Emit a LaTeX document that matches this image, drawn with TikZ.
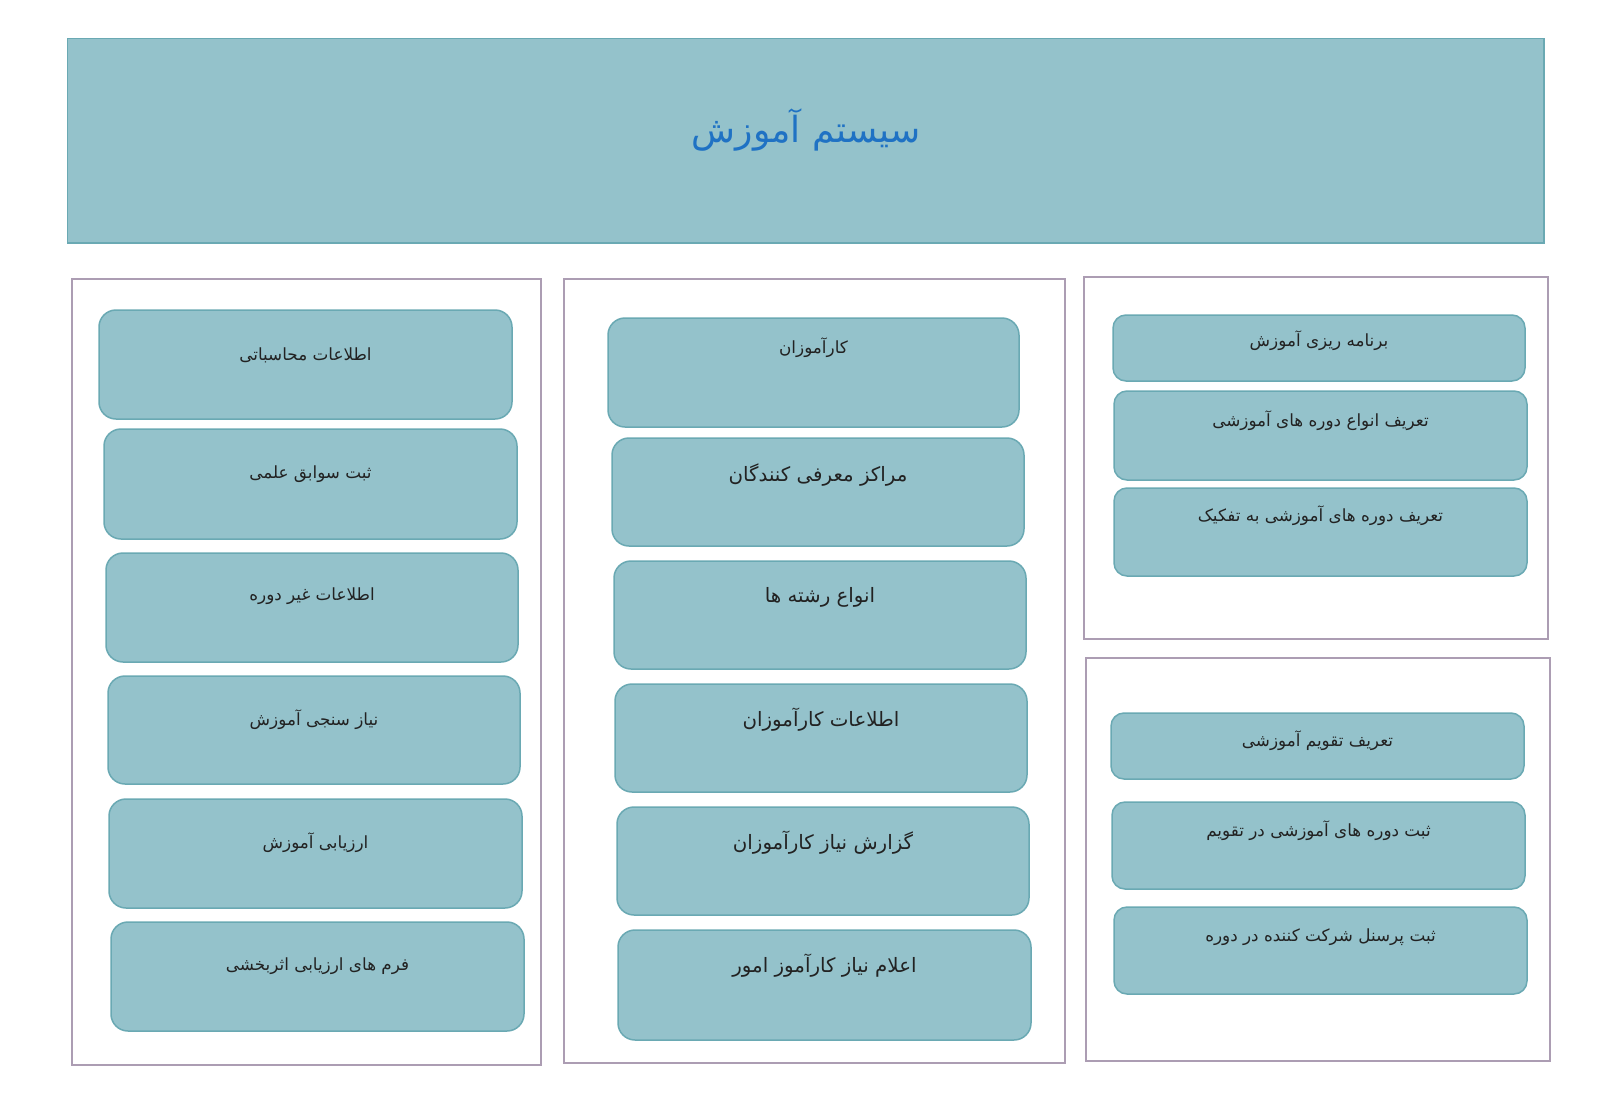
\documentclass[tikz,border=0pt]{standalone}
\usepackage{fontspec}
\usetikzlibrary{fit}
\TeXXeTstate=1
\newfontfamily\arabicfont[Script=Arabic]{DejaVu Sans}
\definecolor{boxfill}{HTML}{94C2CB}
\definecolor{boxedge}{HTML}{6AA9B3}
\definecolor{paneledge}{HTML}{AC9DB3}
\definecolor{titleblue}{HTML}{1F72C4}
\definecolor{txt}{HTML}{222222}
\tikzset{
  panel/.style={draw=paneledge, line width=1.3pt, fill=white, inner sep=0pt},
  box/.style={draw=boxedge, line width=1.5pt, fill=boxfill, rounded corners=17pt, inner sep=0pt},
  sbox/.style={draw=boxedge, line width=1.5pt, fill=boxfill, rounded corners=13pt, inner sep=0pt},
  lbl/.style={text=txt, inner sep=0pt, font=\arabicfont\fontsize{16.8}{19}\selectfont},
  mlbl/.style={text=txt, inner sep=0pt, font=\arabicfont\fontsize{19.8}{22}\selectfont},
  titlebox/.style={draw=boxedge, line width=1.3pt, fill=boxfill, inner sep=0pt},
  titlelbl/.style={text=titleblue, inner sep=0pt, font=\arabicfont\fontsize{36}{40}\selectfont}
}
% name, x1, y1, x2, y2, text-y, box style, label style, text
\newcommand\bx[9]{%
  \node[#7, fit={(#2,#3)(#4,#5)}] (#1) {};
  \node[#8] (#1t) at ({(#2+#4)/2},#6) {#9};
}
\begin{document}
\begin{tikzpicture}[x=1pt,y=-1pt]
\useasboundingbox (0,0) rectangle (1612,1098);
\fill[white] (0,0) rectangle (1612,1098);
% title
\node[titlebox, fit={(67.5,38.5)(1544,243)}] (title) {};
\node[titlelbl] (titlet) at (806,130) {\beginR سیستم آموزش\endR};
% panels
\node[panel, fit={(72,279)(541,1065)}] (pl) {};
\node[panel, fit={(564,279)(1065,1063)}] (pm) {};
\node[panel, fit={(1084,277)(1548,639)}] (prt) {};
\node[panel, fit={(1086,658)(1550,1061)}] (prb) {};
% left column
\bx{l1}{99}{310}{512}{419}{355}{box}{lbl}{\beginR اطلاعات محاسباتی\endR}
\bx{l2}{104}{429}{517}{539}{474}{box}{lbl}{\beginR ثبت سوابق علمی\endR}
\bx{l3}{106}{553}{518}{662}{596}{box}{lbl}{\beginR اطلاعات غیر دوره\endR}
\bx{l4}{108}{676}{520}{784}{720}{box}{lbl}{\beginR نیاز سنجی آموزش\endR}
\bx{l5}{109}{799}{522}{908}{843}{box}{lbl}{\beginR ارزیابی آموزش\endR}
\bx{l6}{111}{922}{524}{1031}{966}{box}{lbl}{\beginR فرم های ارزیابی اثربخشی\endR}
% middle column
\bx{m1}{608}{318}{1019}{427}{348}{box}{lbl}{\beginR کارآموزان\endR}
\bx{m2}{612}{438}{1024}{546}{475}{box}{mlbl}{\beginR مراکز معرفی کنندگان\endR}
\bx{m3}{614}{561}{1026}{669}{597}{box}{mlbl}{\beginR انواع رشته ها\endR}
\bx{m4}{615}{684}{1027}{792}{720}{box}{mlbl}{\beginR اطلاعات کارآموزان\endR}
\bx{m5}{617}{807}{1029}{915}{843}{box}{mlbl}{\beginR گزارش نیاز کارآموزان\endR}
\bx{m6}{618}{930}{1031}{1040}{966}{box}{mlbl}{\beginR اعلام نیاز کارآموز امور\endR}
% right top
\bx{r1}{1113}{315}{1525}{381}{341}{sbox}{lbl}{\beginR برنامه ریزی آموزش\endR}
\bx{r2}{1114}{391}{1527}{480}{421}{sbox}{lbl}{\beginR تعریف انواع دوره های آموزشی\endR}
\bx{r3}{1114}{488}{1527}{576}{516}{sbox}{lbl}{\beginR تعریف دوره های آموزشی به تفکیک\endR}
% right bottom
\bx{s1}{1111}{713}{1524}{779}{741}{sbox}{lbl}{\beginR تعریف تقویم آموزشی\endR}
\bx{s2}{1112}{802}{1525}{889}{831}{sbox}{lbl}{\beginR ثبت دوره های آموزشی در تقویم\endR}
\bx{s3}{1114}{907}{1527}{994}{937}{sbox}{lbl}{\beginR ثبت پرسنل شرکت کننده در دوره\endR}
\end{tikzpicture}
\end{document}
